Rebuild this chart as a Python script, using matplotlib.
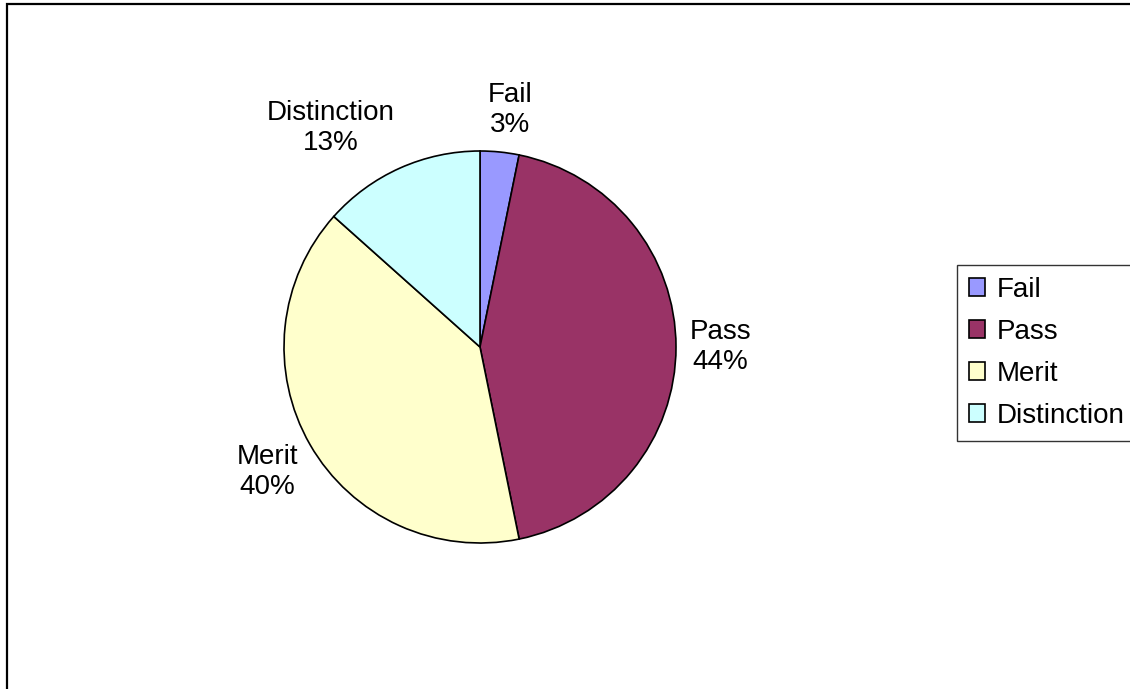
import matplotlib
matplotlib.use("Agg")
import matplotlib.pyplot as plt
from matplotlib.patches import Rectangle
import numpy as np

# ---- data ----
categories = ["Fail", "Pass", "Merit", "Distinction"]
shares = [3.2, 43.6, 39.8, 13.4]
colors = ["#9999FF", "#993366", "#FFFFCC", "#CCFFFF"]

# ---- layout ----
W, H = 1130, 689
cx, cy, R = 480, 347, 196
FS = 20
LABEL_R = 1.07

plt.rcParams['font.family'] = ['Liberation Sans', 'DejaVu Sans']

fig = plt.figure(figsize=(W / 100, H / 100), dpi=100)
fig.patch.set_facecolor("white")

# chart frame (extends beyond right/bottom edges)
fig.add_artist(Rectangle((7 / W, -0.2), 2.0, (H - 4) / H + 0.2,
                         transform=fig.transFigure, fill=False,
                         ec="black", lw=1.6, clip_on=False))

ax = fig.add_axes([(cx - R) / W, (H - cy - R) / H, 2 * R / W, 2 * R / H])
wedges, _ = ax.pie(shares, colors=colors, startangle=90, counterclock=False,
                   wedgeprops=dict(edgecolor="black", linewidth=1.2),
                   radius=1.0)
ax.set_xlim(-1, 1)
ax.set_ylim(-1, 1)
ax.set_aspect("equal")
ax.axis("off")

total = sum(shares)
texts = []
for w, c, v in zip(wedges, categories, shares):
    ang = np.deg2rad((w.theta1 + w.theta2) / 2)
    pct = f"{round(100 * v / total)}%"
    t = ax.text(LABEL_R * np.cos(ang), LABEL_R * np.sin(ang), f"{c}\n{pct}",
                ha="center", va="center", fontsize=FS, linespacing=1.2,
                multialignment="center")
    texts.append((t, ang))

fig.canvas.draw()
r = fig.canvas.get_renderer()
for t, ang in texts:
    bb = t.get_window_extent(r)
    wpx, hpx = bb.width, bb.height
    fx = np.clip(4.0 * np.cos(ang), -1, 1)
    fy = np.clip(1.5 * np.sin(ang), -1, 1)
    x = LABEL_R * np.cos(ang) + (wpx / 2 * fx) / R
    y = LABEL_R * np.sin(ang) + (hpx / 2 * fy) / R
    t.set_position((x, y))

leg = fig.legend(wedges, categories, loc="upper left",
                 bbox_to_anchor=(957 / W, 1 - 265 / H), borderaxespad=0,
                 fontsize=FS, frameon=True, fancybox=False,
                 handlelength=0.6, handleheight=0.6, handletextpad=0.4,
                 labelspacing=0.58, borderpad=0.42)
leg.get_frame().set_edgecolor("black")
leg.get_frame().set_linewidth(1.0)

fig.savefig("out.png", dpi=100, facecolor="white")
